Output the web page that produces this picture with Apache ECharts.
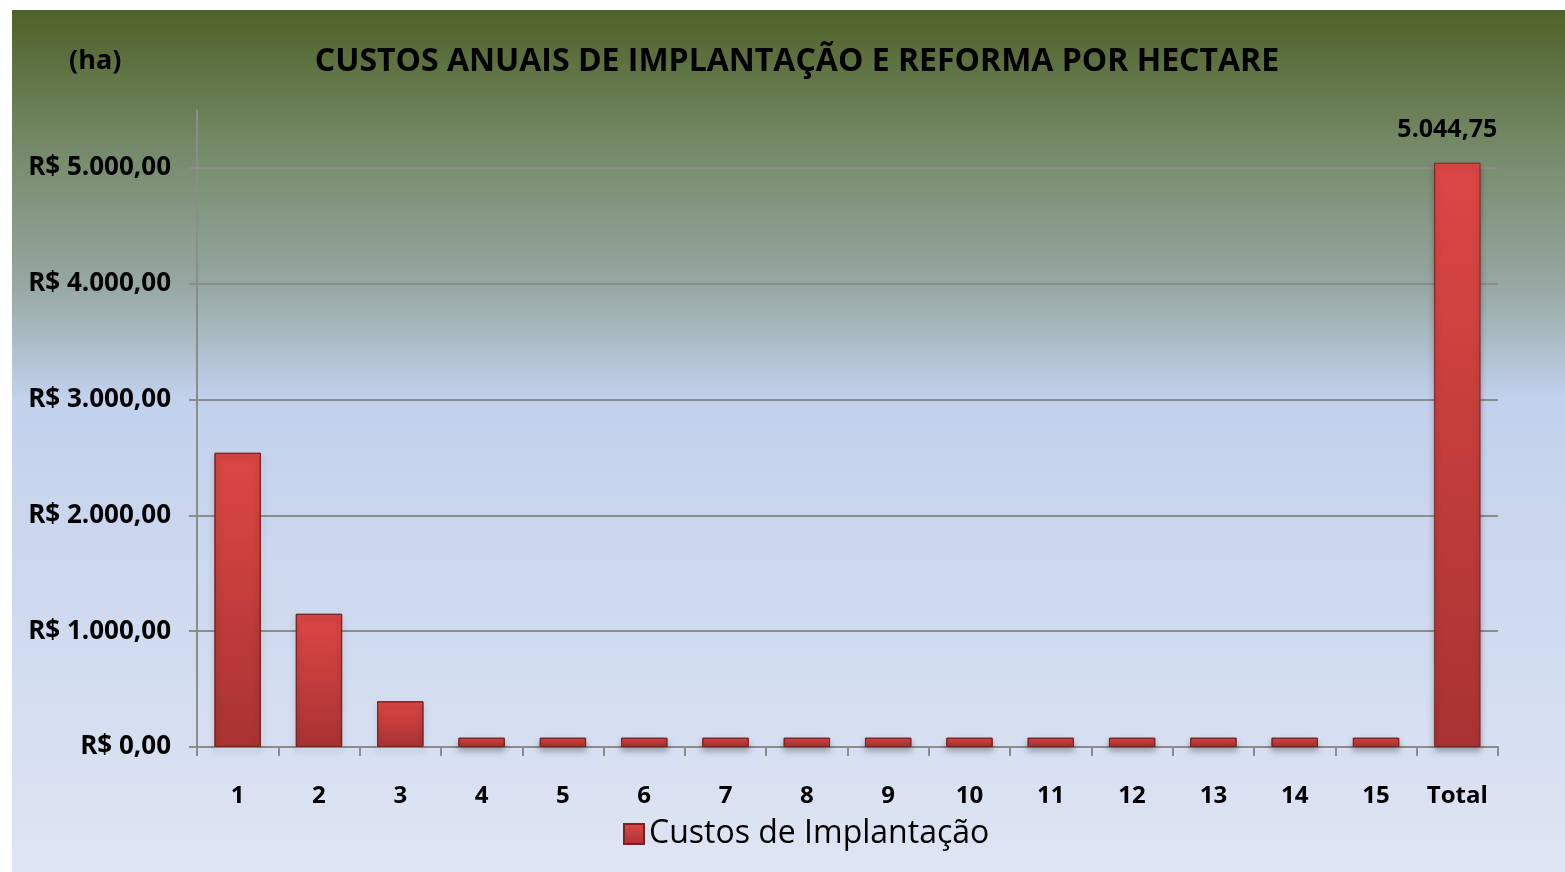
<!DOCTYPE html>
<html>
<head>
<meta charset="utf-8">
<script src="https://cdn.jsdelivr.net/npm/echarts@6/dist/echarts.min.js"></script>
<style>
  html, body { margin: 0; padding: 0; background: #fff; }
  #chart { position: absolute; left: 12px; top: 10px; width: 1553px; height: 862px; }
</style>
</head>
<body>
<div id="chart"></div>
<script>
// dados
const categories = ['1', '2', '3', '4', '5', '6', '7', '8', '9', '10', '11', '12', '13', '14', '15', 'Total'];
const custos = [2540, 1150, 394.75, 80, 80, 80, 80, 80, 80, 80, 80, 80, 80, 80, 80, 5044.75];
const yTicks = [0, 1000, 2000, 3000, 4000, 5000];
const seriesName = 'Custos de Implantação';

const FONT = 'Open Sans';

function fmtBR(v) {
  const parts = v.toFixed(2).split('.');
  parts[0] = parts[0].replace(/\B(?=(\d{3})+(?!\d))/g, '.');
  return parts.join(',');
}

const barColor = new echarts.graphic.LinearGradient(0, 0, 0, 1, [
  { offset: 0, color: '#dc4744' },
  { offset: 1, color: '#a83332' }
]);

const chart = echarts.init(document.getElementById('chart'));
chart.setOption({
  backgroundColor: new echarts.graphic.LinearGradient(0, 0, 0, 1, [
    { offset: 0, color: '#4f6228' },
    { offset: 0.17, color: '#778c6c' },
    { offset: 0.32, color: '#97a8a2' },
    { offset: 0.45, color: '#c2d1ec' },
    { offset: 1, color: '#dee5f3' }
  ]),
  textStyle: { fontFamily: FONT },
  title: [
    {
      text: 'CUSTOS ANUAIS DE IMPLANTAÇÃO E REFORMA POR HECTARE',
      left: 780,
      top: 31,
      textAlign: 'center',
      textStyle: { fontFamily: FONT, fontWeight: 'bold', fontSize: 32, color: '#000' }
    },
    {
      text: '(ha)',
      left: 52,
      top: 33,
      textStyle: { fontFamily: FONT, fontWeight: 'bold', fontSize: 27, color: '#000' }
    }
  ],
  legend: {
    data: [seriesName],
    left: 606,
    top: 803,
    icon: 'rect',
    itemWidth: 20,
    itemHeight: 20,
    itemGap: 8,
    textStyle: { fontFamily: FONT, fontSize: 32, color: '#000' }
  },
  grid: { left: 185, right: 67, top: 100, bottom: 125 },
  xAxis: {
    type: 'category',
    data: categories,
    axisLine: { lineStyle: { color: '#8c8c8c', width: 2 } },
    axisTick: { show: true, length: 9, lineStyle: { color: '#8c8c8c', width: 2 } },
    axisLabel: { margin: 37, fontFamily: FONT, fontWeight: 'bold', fontSize: 24, color: '#000' }
  },
  yAxis: {
    type: 'value',
    min: 0,
    max: 5500,
    interval: 1000,
    axisLine: { show: true, lineStyle: { color: '#8c8c8c', width: 2 } },
    axisTick: { show: true, length: 8, customValues: yTicks, lineStyle: { color: '#8c8c8c', width: 2 } },
    axisLabel: {
      margin: 26,
      customValues: yTicks,
      fontFamily: FONT,
      fontWeight: 'bold',
      fontSize: 26,
      color: '#000',
      formatter: v => 'R$ ' + fmtBR(v)
    },
    splitLine: { show: true, lineStyle: { color: '#8c8c8c', width: 2 } }
  },
  series: [
    {
      name: seriesName,
      type: 'bar',
      barWidth: '57%',
      data: custos.map((v, i) => ({
        value: v,
        label: {
          show: i === custos.length - 1,
          position: 'top',
          distance: 20,
          offset: [-10, 0],
          fontFamily: FONT,
          fontWeight: 'bold',
          fontSize: 25,
          color: '#000',
          formatter: p => fmtBR(p.value)
        }
      })),
      itemStyle: {
        color: barColor,
        borderColor: '#7a2222',
        borderWidth: 1,
        shadowBlur: 6,
        shadowColor: 'rgba(0,0,0,0.3)',
        shadowOffsetY: 4
      }
    }
  ]
});
</script>
</body>
</html>
